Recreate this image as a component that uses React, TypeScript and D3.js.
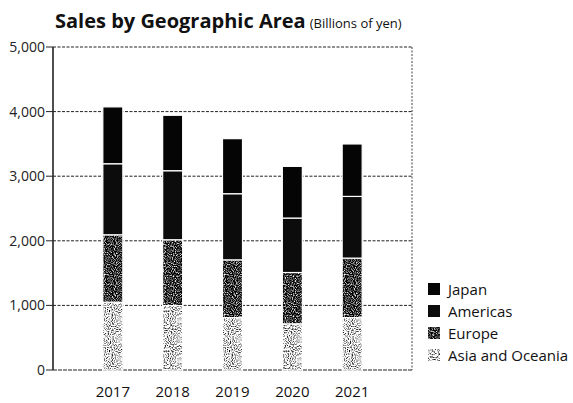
import React from "react";
import * as d3 from "d3";

const years = ["2017", "2018", "2019", "2020", "2021"];
const seriesNames = ["Japan", "Americas", "Europe", "Asia and Oceania"];
const japan = [880, 858, 852, 800, 812];
const americas = [1100, 1069, 1024, 843, 955];
const europe = [1043, 1019, 894, 794, 921];
const asiaOceania = [1050, 997, 811, 715, 811];
const yTicks = [0, 1000, 2000, 3000, 4000, 5000];

const W = 573, H = 403;
const M = { left: 53, right: 161, top: 47, bottom: 33 };
const FONT = "'Open Sans', 'Noto Sans', sans-serif";

export default function App() {
  const x = d3.scalePoint<string>().domain(years).range([M.left, W - M.right]).padding(1);
  const y = d3.scaleLinear().domain([0, 5000]).range([H - M.bottom, M.top]);
  const rows = years.map((yr, i) => ({
    year: yr,
    "Asia and Oceania": asiaOceania[i],
    Europe: europe[i],
    Americas: americas[i],
    Japan: japan[i],
  }));
  const stack = d3.stack<any>().keys(["Asia and Oceania", "Europe", "Americas", "Japan"]);
  const layers = stack(rows);
  const fills: Record<string, string> = {
    Japan: "#050505",
    Americas: "#0c0c0c",
    Europe: "url(#pEurope)",
    "Asia and Oceania": "url(#pAsia)",
  };
  const bw = 20;
  return (
    <svg width={W} height={H} style={{ position: "absolute", left: 0, top: 0, background: "#fff" }}>
      <defs>
        <filter id="noiseDark" x="0" y="0" width="100%" height="100%">
          <feTurbulence type="fractalNoise" baseFrequency="0.9" numOctaves="1" seed="3" result="n" />
          <feColorMatrix type="matrix" values="0 0 0 0 0  0 0 0 0 0  0 0 0 0 0  0 0 0 -3 2.3" />
        </filter>
        <pattern id="pEurope" width="40" height="40" patternUnits="userSpaceOnUse">
          <rect width="40" height="40" fill="#fff" />
          <rect width="40" height="40" fill="#000" filter="url(#noiseDark)" />
        </pattern>
        <filter id="noiseLight" x="0" y="0" width="100%" height="100%">
          <feTurbulence type="fractalNoise" baseFrequency="0.95" numOctaves="1" seed="7" result="n" />
          <feColorMatrix type="matrix" values="0 0 0 0 0  0 0 0 0 0  0 0 0 0 0  0 0 0 -3 1.65" />
        </filter>
        <pattern id="pAsia" width="40" height="40" patternUnits="userSpaceOnUse">
          <rect width="40" height="40" fill="#fff" />
          <rect width="40" height="40" fill="#222" filter="url(#noiseLight)" />
        </pattern>
      </defs>
      <text x={55} y={28} fontFamily={FONT} fontWeight="bold" fontSize={20} fill="#111">
        Sales by Geographic Area
        <tspan fontWeight="normal" fontSize={13} dx={4}>(Billions of yen)</tspan>
      </text>
      {yTicks.map((t) => (
        <g key={t}>
          <line x1={M.left} x2={W - M.right} y1={y(t)} y2={y(t)} stroke="#222" strokeWidth={1} strokeDasharray={t === 0 ? "4,1" : "3,1.5"} />
          <line x1={M.left - 7} x2={M.left} y1={y(t)} y2={y(t)} stroke="#222" strokeWidth={1} />
          <text x={M.left - 8} y={y(t) + 5} textAnchor="end" fontFamily={FONT} fontSize={14} fill="#222">
            {d3.format(",")(t)}
          </text>
        </g>
      ))}
      <line x1={M.left} x2={M.left} y1={M.top} y2={H - M.bottom} stroke="#222" strokeWidth={1.6} />
      <line x1={W - M.right} x2={W - M.right} y1={M.top} y2={H - M.bottom} stroke="#444" strokeWidth={1} strokeDasharray="2,1.5" />
      {layers.map((layer) => (
        <g key={layer.key}>
          {layer.map((d, i) => (
            <rect
              key={i}
              x={(x(years[i]) as number) - bw / 2}
              width={bw}
              y={y(d[1])}
              height={y(d[0]) - y(d[1])}
              fill={fills[layer.key]}
              stroke="#fff"
              strokeWidth={1.2}
            />
          ))}
        </g>
      ))}
      {years.map((yr) => (
        <text key={yr} x={x(yr)} y={H - 6} textAnchor="middle" fontFamily={FONT} fontSize={15} fill="#111">
          {yr}
        </text>
      ))}
      {seriesNames.map((s, i) => (
        <g key={s} transform={`translate(428, ${283 + i * 22})`}>
          <rect width={12} height={12} fill={fills[s]} />
          <text x={20} y={12} fontFamily={FONT} fontSize={15} fill="#111">
            {s}
          </text>
        </g>
      ))}
    </svg>
  );
}
